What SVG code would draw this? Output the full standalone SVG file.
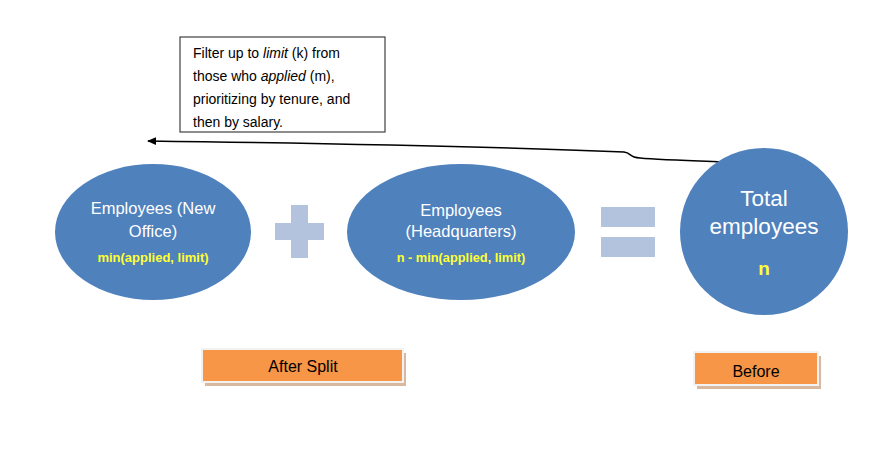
<svg xmlns="http://www.w3.org/2000/svg" width="881" height="449" viewBox="0 0 881 449">
<defs>
<style>
.node{fill:#4F81BD;}
.wt{fill:#FFFFFF;font-family:"Liberation Sans",Arial,sans-serif;text-anchor:middle;}
.yt{fill:#FFFF33;font-family:"Liberation Sans",Arial,sans-serif;font-weight:bold;text-anchor:middle;}
.op{fill:#B3C2DD;}
.lbl{fill:#F79646;stroke:#F2F2F2;stroke-width:2;}
.sh{fill:#D9B8A0;}
.bt{fill:#000000;font-family:"Liberation Sans",Arial,sans-serif;font-size:16px;text-anchor:middle;}
.note{fill:#FFFFFF;stroke:#404040;stroke-width:1.2;}
.nt{fill:#000000;font-family:"Liberation Sans",Arial,sans-serif;font-size:14px;}
.conn{fill:none;stroke:#000000;stroke-width:1.5;}
</style>
<marker id="ah" markerWidth="10" markerHeight="10" refX="8" refY="5" orient="auto" markerUnits="userSpaceOnUse">
<path d="M0,1 L9,5 L0,9 Z" fill="#000000"/>
</marker>
</defs>
<rect width="881" height="449" fill="#FFFFFF"/>

<g id="note">
<rect class="note" x="180" y="37" width="205" height="95"/>
<text class="nt" x="193" y="58">Filter up to <tspan font-style="italic">limit</tspan> (k) from</text>
<text class="nt" x="193" y="81">those who <tspan font-style="italic">applied</tspan> (m),</text>
<text class="nt" x="193" y="104">prioritizing by tenure, and</text>
<text class="nt" x="193" y="127">then by salary.</text>
</g>

<g id="connectors">
<path class="conn" d="M729,162 C700,161 660,160 640,158 C628,157 632,153 624,152 C500,147 300,143 148,141" marker-end="url(#ah)"/>
</g>

<g id="new-office">
<ellipse class="node" cx="153" cy="232" rx="98" ry="68"/>
<text class="wt" x="153" y="214" font-size="16.5">Employees (New</text>
<text class="wt" x="153" y="237" font-size="16.5">Office)</text>
<text class="yt" x="153" y="262" font-size="13">min(applied, limit)</text>
</g>

<g id="plus">
<rect class="op" x="275" y="223" width="49" height="17"/>
<rect class="op" x="291" y="205" width="17" height="53"/>
</g>

<g id="headquarters">
<ellipse class="node" cx="461" cy="232" rx="114" ry="68"/>
<text class="wt" x="461" y="216" font-size="16.5">Employees</text>
<text class="wt" x="461" y="237" font-size="16.5">(Headquarters)</text>
<text class="yt" x="461" y="262" font-size="12.8">n - min(applied, limit)</text>
</g>

<g id="equals">
<rect class="op" x="601" y="207" width="54" height="20"/>
<rect class="op" x="601" y="237" width="54" height="20"/>
</g>

<g id="total">
<ellipse class="node" cx="764" cy="231.5" rx="84" ry="83.5"/>
<text class="wt" x="764" y="206" font-size="22.5">Total</text>
<text class="wt" x="764" y="234" font-size="22.5">employees</text>
<text class="yt" x="764" y="275" font-size="19">n</text>
</g>

<g id="after-split">
<rect class="sh" x="205" y="353" width="201" height="33"/>
<rect class="lbl" x="202" y="349" width="201" height="33"/>
<text class="bt" x="303" y="372">After Split</text>
</g>

<g id="before">
<rect class="sh" x="697" y="356" width="124" height="33"/>
<rect class="lbl" x="694" y="352" width="124" height="33"/>
<text class="bt" x="756" y="377">Before</text>
</g>
</svg>
